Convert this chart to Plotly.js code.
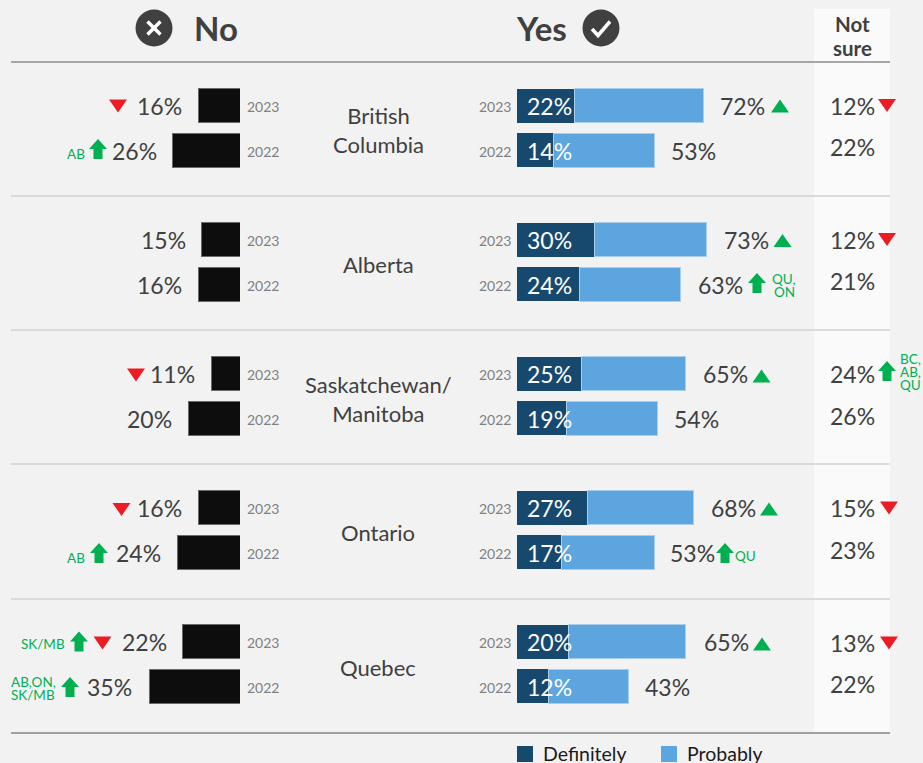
<!DOCTYPE html>
<html>
<head>
<meta charset="utf-8">
<script src="https://cdn.plot.ly/plotly-3.0.1.min.js"></script>
<style>html,body{margin:0;padding:0;background:#f2f2f2;overflow:hidden}</style>
</head>
<body>
<div id="chart" style="width:923px;height:763px"></div>
<script>
// ---- data (each list: 2023, 2022 per region) ----
const regionLabels = ['British<br>Columbia', 'Alberta', 'Saskatchewan/<br>Manitoba', 'Ontario', 'Quebec'];
const years = ['2023', '2022'];
const noValues = [[16, 26], [15, 16], [11, 20], [16, 24], [22, 35]];
const definitelyValues = [[22, 14], [30, 24], [25, 19], [27, 17], [20, 12]];
const yesTotals = [[72, 53], [73, 63], [65, 54], [68, 53], [65, 43]];
const notSureValues = [[12, 22], [12, 21], [24, 26], [15, 23], [13, 22]];
const seriesNames = ['Definitely', 'Probably'];

// ---- layout constants (pixels) ----
const W = 923, H = 763, PX_PER_PCT_NO = 2.6, PX_PER_PCT_YES = 2.595;
const BAR_ZERO_NO = 240, BAR_ZERO_YES = 517;
const ROW_STEP = 134, FIRST_BAR_Y = 105.7, BAR_GAP = 44.7;
const TEXT = '#404040', GREEN = '#00b050', RED = '#ed1c24', FONT = 'Lato, Carlito, sans-serif';
const DARK = '#17496f', LIGHT = '#5ca5df';
const noLabelX = [[159, 134], [163, 159], [172, 149], [159, 138], [144, 109]];
const yesLabelX = [[742, 693], [746, 720], [725, 696], [733, 692], [726, 667]];
const notSureLabelY = [[106, 147], [240, 281], [374, 416], [508, 550], [643, 684]];
const regionLabelY = [130, 264, 399, 532, 667];

const barY = (r, k) => FIRST_BAR_Y + ROW_STEP * r + BAR_GAP * k;
const pctText = v => v + '%';

// ---- traces ----
const yRow = [], noX = [], defX = [], probX = [];
noValues.forEach((pair, r) => pair.forEach((v, k) => {
  yRow.push(barY(r, k));
  noX.push(v);
  defX.push(definitelyValues[r][k]);
  probX.push(yesTotals[r][k] - definitelyValues[r][k]);
}));
const barBase = {type: 'bar', orientation: 'h', width: 34, y: yRow, hoverinfo: 'x+name', showlegend: false};
const traces = [
  Object.assign({}, barBase, {name: 'No', x: noX, xaxis: 'x', yaxis: 'y',
    marker: {color: '#0d0d0d', line: {color: '#6a6a6a', width: 1}}}),
  Object.assign({}, barBase, {name: seriesNames[0], x: defX, xaxis: 'x2', yaxis: 'y',
    marker: {color: DARK, line: {width: 0}}}),
  Object.assign({}, barBase, {name: seriesNames[1], x: probX, xaxis: 'x2', yaxis: 'y',
    marker: {color: LIGHT, line: {color: '#a9cdec', width: 1}}})
];

// ---- annotations ----
const ann = [];
function label(text, x, y, size, color, opts) {
  ann.push(Object.assign({text, x, y, xref: 'x3', yref: 'y', xanchor: 'center', yanchor: 'middle',
    showarrow: false, font: {family: FONT, size, color}}, opts || {}));
}
function greenNote(lines, x, y) {
  const step = 13, top = y - step * (lines.length - 1) / 2;
  lines.forEach((t, i) => label(t, x, top + i * step, 13.5, GREEN));
}
regionLabels.forEach((t, r) => {
  label(t, 378, regionLabelY[r], 22, TEXT);
  years.forEach((yr, k) => {
    const ty = 106 + ROW_STEP * r + 45 * k;
    label(yr, 263, ty, 14, '#7f7f7f');
    label(yr, 495, ty, 14, '#7f7f7f');
    label(pctText(noValues[r][k]), noLabelX[r][k], ty, 23, TEXT);
    label(pctText(yesTotals[r][k]), yesLabelX[r][k], ty, 23, TEXT);
    label(pctText(definitelyValues[r][k]), 549, ty, 23, '#ffffff');
    label(pctText(notSureValues[r][k]), 852, notSureLabelY[r][k], 23, TEXT);
  });
});
const bold = size => ({font: {family: FONT, size, color: TEXT, weight: 700}});
label('No', 215.5, 28, 33, TEXT, bold(33));
label('Yes', 541.5, 28, 33, TEXT, bold(33));
label('Not', 852, 23.5, 20.5, TEXT, bold(20.5));
label('sure', 852, 47.5, 20.5, TEXT, bold(20.5));
label(seriesNames[0], 541, 753, 19.5, '#1a1a1a', {xanchor: 'left'});
label(seriesNames[1], 685, 753, 19.5, '#1a1a1a', {xanchor: 'left'});

greenNote(['AB'], 76, 154);
greenNote(['AB'], 76, 558);
greenNote(['SK/MB'], 43, 644);
greenNote(['AB,ON,', 'SK/MB'], 33, 688);
greenNote(['QU,', 'ON'], 784, 285);
greenNote(['QU'], 745, 556);
greenNote(['BC,', 'AB,', 'QU'], 910, 372);

// ---- decorations ----
const shapes = [];
const px = {xref: 'x3', yref: 'y'};
function rect(x0, y0, x1, y1, color, layer) {
  shapes.push(Object.assign({type: 'rect', x0, y0, x1, y1, fillcolor: color, line: {width: 0}, layer: layer || 'below'}, px));
}
function hline(y, color, width) {
  shapes.push(Object.assign({type: 'line', x0: 11, x1: 890, y0: y, y1: y, line: {color, width}, layer: 'below'}, px));
}
function path(d, fill, line) {
  shapes.push(Object.assign({type: 'path', path: d, fillcolor: fill, line: line || {width: 0}, layer: 'above'}, px));
}
const triUp = (x, y) => path(`M${x-9},${y+6.5} L${x+9},${y+6.5} L${x},${y-6.5} Z`, GREEN);
const triDown = (x, y) => path(`M${x-9},${y-6.5} L${x+9},${y-6.5} L${x},${y+6.5} Z`, RED);
const arrowUp = (x, y) => path(`M${x},${y-10} L${x+9},${y} L${x+4.5},${y} L${x+4.5},${y+10} L${x-4.5},${y+10} L${x-4.5},${y} L${x-9},${y} Z`, GREEN);

rect(814, 9, 890, 733, '#fafafa');
hline(62, '#a6a6a6', 2);
[196, 330, 464, 599].forEach(y => hline(y, '#d2d2d2', 1.5));
hline(733, '#a0a0a0', 2);

[[118, 106], [136, 375], [121.5, 509.5], [102.5, 643], [887, 105.5], [887, 239.5], [889, 508], [889, 643]].forEach(p => triDown(p[0], p[1]));
[[780, 106], [782.5, 240.5], [761.5, 376], [769, 509], [762, 644]].forEach(p => triUp(p[0], p[1]));
[[98, 149], [99, 553], [79, 641.5], [70, 687], [757, 283], [725, 553], [887, 371]].forEach(p => arrowUp(p[0], p[1]));

// header icons
[[154, 28], [601, 28]].forEach(c => shapes.push(Object.assign({type: 'circle', x0: c[0]-18.5, x1: c[0]+18.5, y0: c[1]-18.5, y1: c[1]+18.5,
  fillcolor: TEXT, line: {width: 0}, layer: 'above'}, px)));
const whiteStroke = {color: '#ffffff', width: 3.5};
path('M147.5,21.5 L160.5,34.5 M160.5,21.5 L147.5,34.5', 'rgba(0,0,0,0)', whiteStroke);
path('M592,29 L598,35.5 L610,21.5', 'rgba(0,0,0,0)', whiteStroke);

// legend swatches
rect(517, 746, 533, 762, DARK, 'above');
rect(661, 746, 677, 762, LIGHT, 'above');

// ---- layout ----
const hidden = {visible: false, fixedrange: true, showgrid: false, zeroline: false};
const layout = {
  width: W, height: H,
  margin: {l: 0, r: 0, t: 0, b: 0, pad: 0},
  paper_bgcolor: '#f2f2f2', plot_bgcolor: 'rgba(0,0,0,0)',
  barmode: 'stack', showlegend: false,
  xaxis: Object.assign({}, hidden, {domain: [0, BAR_ZERO_NO / W], range: [BAR_ZERO_NO / PX_PER_PCT_NO, 0], anchor: 'y'}),
  xaxis2: Object.assign({}, hidden, {domain: [BAR_ZERO_YES / W, 1], range: [0, (W - BAR_ZERO_YES) / PX_PER_PCT_YES], anchor: 'y'}),
  xaxis3: Object.assign({}, hidden, {domain: [0, 1], range: [0, W], anchor: 'y'}),
  yaxis: Object.assign({}, hidden, {domain: [0, 1], range: [H, 0]}),
  annotations: ann,
  shapes: shapes
};
// keeps the full-page pixel axis alive for annotations and shapes
traces.push({type: 'scatter', mode: 'none', x: [0, W], y: [0, H], xaxis: 'x3', yaxis: 'y', hoverinfo: 'skip', showlegend: false});
Plotly.newPlot('chart', traces, layout, {displayModeBar: false, responsive: false});
</script>
</body>
</html>
